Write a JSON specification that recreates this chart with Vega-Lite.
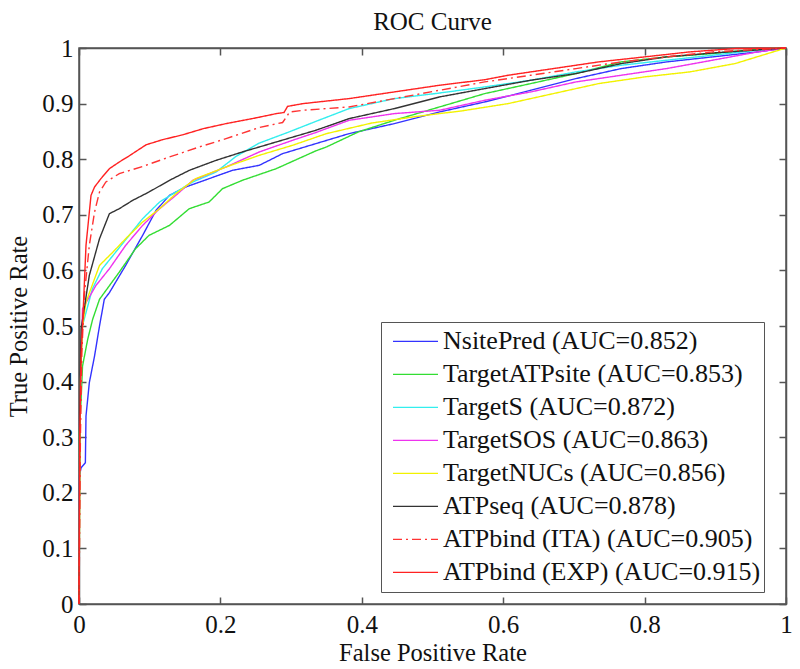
{
  "$schema": "https://vega.github.io/schema/vega-lite/v6.json",
  "width": 707,
  "height": 556,
  "autosize": {"type": "none"},
  "padding": {"left": 79, "top": 48, "right": 14, "bottom": 65},
  "background": "white",
  "title": {"text": "ROC Curve", "font": "Liberation Serif", "fontSize": 25, "fontWeight": "normal", "color": "#111", "offset": 1},
  "config": {
    "view": {"stroke": "#555", "strokeWidth": 1.5},
    "axis": {"labelFont": "Liberation Serif", "titleFont": "Liberation Serif", "labelFontSize": 25, "titleFontSize": 24.5, "titleFontWeight": "normal", "labelColor": "#111", "titleColor": "#111", "domainColor": "#555", "domainWidth": 1.5, "tickColor": "#555", "tickWidth": 1.5, "tickSize": -7, "grid": false}
  },
  "data": {"values": [
    {"s":"NsitePred (AUC=0.852)","fpr":0,"tpr":0},
    {"s":"NsitePred (AUC=0.852)","fpr":0.0005,"tpr":0.23},
    {"s":"NsitePred (AUC=0.852)","fpr":0.003,"tpr":0.245},
    {"s":"NsitePred (AUC=0.852)","fpr":0.009,"tpr":0.254},
    {"s":"NsitePred (AUC=0.852)","fpr":0.0099,"tpr":0.338},
    {"s":"NsitePred (AUC=0.852)","fpr":0.0146,"tpr":0.398},
    {"s":"NsitePred (AUC=0.852)","fpr":0.022,"tpr":0.446},
    {"s":"NsitePred (AUC=0.852)","fpr":0.029,"tpr":0.5},
    {"s":"NsitePred (AUC=0.852)","fpr":0.0358,"tpr":0.548},
    {"s":"NsitePred (AUC=0.852)","fpr":0.043,"tpr":0.56},
    {"s":"NsitePred (AUC=0.852)","fpr":0.066,"tpr":0.609},
    {"s":"NsitePred (AUC=0.852)","fpr":0.09,"tpr":0.663},
    {"s":"NsitePred (AUC=0.852)","fpr":0.109,"tpr":0.708},
    {"s":"NsitePred (AUC=0.852)","fpr":0.128,"tpr":0.735},
    {"s":"NsitePred (AUC=0.852)","fpr":0.151,"tpr":0.75},
    {"s":"NsitePred (AUC=0.852)","fpr":0.184,"tpr":0.765},
    {"s":"NsitePred (AUC=0.852)","fpr":0.217,"tpr":0.78},
    {"s":"NsitePred (AUC=0.852)","fpr":0.255,"tpr":0.789},
    {"s":"NsitePred (AUC=0.852)","fpr":0.288,"tpr":0.81},
    {"s":"NsitePred (AUC=0.852)","fpr":0.335,"tpr":0.828},
    {"s":"NsitePred (AUC=0.852)","fpr":0.382,"tpr":0.846},
    {"s":"NsitePred (AUC=0.852)","fpr":0.446,"tpr":0.864},
    {"s":"NsitePred (AUC=0.852)","fpr":0.51,"tpr":0.885},
    {"s":"NsitePred (AUC=0.852)","fpr":0.574,"tpr":0.903},
    {"s":"NsitePred (AUC=0.852)","fpr":0.639,"tpr":0.924},
    {"s":"NsitePred (AUC=0.852)","fpr":0.703,"tpr":0.945},
    {"s":"NsitePred (AUC=0.852)","fpr":0.767,"tpr":0.963},
    {"s":"NsitePred (AUC=0.852)","fpr":0.831,"tpr":0.975},
    {"s":"NsitePred (AUC=0.852)","fpr":0.896,"tpr":0.984},
    {"s":"NsitePred (AUC=0.852)","fpr":0.96,"tpr":0.993},
    {"s":"NsitePred (AUC=0.852)","fpr":1,"tpr":1},

    {"s":"TargetATPsite (AUC=0.853)","fpr":0,"tpr":0},
    {"s":"TargetATPsite (AUC=0.853)","fpr":0.0005,"tpr":0.308},
    {"s":"TargetATPsite (AUC=0.853)","fpr":0.003,"tpr":0.368},
    {"s":"TargetATPsite (AUC=0.853)","fpr":0.005,"tpr":0.428},
    {"s":"TargetATPsite (AUC=0.853)","fpr":0.0123,"tpr":0.476},
    {"s":"TargetATPsite (AUC=0.853)","fpr":0.0193,"tpr":0.512},
    {"s":"TargetATPsite (AUC=0.853)","fpr":0.029,"tpr":0.548},
    {"s":"TargetATPsite (AUC=0.853)","fpr":0.057,"tpr":0.597},
    {"s":"TargetATPsite (AUC=0.853)","fpr":0.08,"tpr":0.639},
    {"s":"TargetATPsite (AUC=0.853)","fpr":0.099,"tpr":0.663},
    {"s":"TargetATPsite (AUC=0.853)","fpr":0.128,"tpr":0.681},
    {"s":"TargetATPsite (AUC=0.853)","fpr":0.156,"tpr":0.711},
    {"s":"TargetATPsite (AUC=0.853)","fpr":0.184,"tpr":0.723},
    {"s":"TargetATPsite (AUC=0.853)","fpr":0.203,"tpr":0.747},
    {"s":"TargetATPsite (AUC=0.853)","fpr":0.231,"tpr":0.762},
    {"s":"TargetATPsite (AUC=0.853)","fpr":0.279,"tpr":0.783},
    {"s":"TargetATPsite (AUC=0.853)","fpr":0.335,"tpr":0.815},
    {"s":"TargetATPsite (AUC=0.853)","fpr":0.35,"tpr":0.822},
    {"s":"TargetATPsite (AUC=0.853)","fpr":0.395,"tpr":0.849},
    {"s":"TargetATPsite (AUC=0.853)","fpr":0.446,"tpr":0.87},
    {"s":"TargetATPsite (AUC=0.853)","fpr":0.51,"tpr":0.894},
    {"s":"TargetATPsite (AUC=0.853)","fpr":0.574,"tpr":0.918},
    {"s":"TargetATPsite (AUC=0.853)","fpr":0.639,"tpr":0.936},
    {"s":"TargetATPsite (AUC=0.853)","fpr":0.703,"tpr":0.954},
    {"s":"TargetATPsite (AUC=0.853)","fpr":0.767,"tpr":0.975},
    {"s":"TargetATPsite (AUC=0.853)","fpr":0.831,"tpr":0.984},
    {"s":"TargetATPsite (AUC=0.853)","fpr":0.896,"tpr":0.99},
    {"s":"TargetATPsite (AUC=0.853)","fpr":0.96,"tpr":0.998},
    {"s":"TargetATPsite (AUC=0.853)","fpr":1,"tpr":1},

    {"s":"TargetS (AUC=0.872)","fpr":0,"tpr":0},
    {"s":"TargetS (AUC=0.872)","fpr":0.001,"tpr":0.3},
    {"s":"TargetS (AUC=0.872)","fpr":0.003,"tpr":0.45},
    {"s":"TargetS (AUC=0.872)","fpr":0.005,"tpr":0.501},
    {"s":"TargetS (AUC=0.872)","fpr":0.019,"tpr":0.567},
    {"s":"TargetS (AUC=0.872)","fpr":0.033,"tpr":0.603},
    {"s":"TargetS (AUC=0.872)","fpr":0.052,"tpr":0.633},
    {"s":"TargetS (AUC=0.872)","fpr":0.071,"tpr":0.663},
    {"s":"TargetS (AUC=0.872)","fpr":0.09,"tpr":0.693},
    {"s":"TargetS (AUC=0.872)","fpr":0.114,"tpr":0.723},
    {"s":"TargetS (AUC=0.872)","fpr":0.137,"tpr":0.741},
    {"s":"TargetS (AUC=0.872)","fpr":0.161,"tpr":0.759},
    {"s":"TargetS (AUC=0.872)","fpr":0.194,"tpr":0.777},
    {"s":"TargetS (AUC=0.872)","fpr":0.222,"tpr":0.805},
    {"s":"TargetS (AUC=0.872)","fpr":0.255,"tpr":0.829},
    {"s":"TargetS (AUC=0.872)","fpr":0.297,"tpr":0.849},
    {"s":"TargetS (AUC=0.872)","fpr":0.335,"tpr":0.868},
    {"s":"TargetS (AUC=0.872)","fpr":0.382,"tpr":0.891},
    {"s":"TargetS (AUC=0.872)","fpr":0.446,"tpr":0.909},
    {"s":"TargetS (AUC=0.872)","fpr":0.51,"tpr":0.919},
    {"s":"TargetS (AUC=0.872)","fpr":0.574,"tpr":0.93},
    {"s":"TargetS (AUC=0.872)","fpr":0.639,"tpr":0.942},
    {"s":"TargetS (AUC=0.872)","fpr":0.703,"tpr":0.957},
    {"s":"TargetS (AUC=0.872)","fpr":0.767,"tpr":0.969},
    {"s":"TargetS (AUC=0.872)","fpr":0.831,"tpr":0.978},
    {"s":"TargetS (AUC=0.872)","fpr":0.896,"tpr":0.987},
    {"s":"TargetS (AUC=0.872)","fpr":0.96,"tpr":0.996},
    {"s":"TargetS (AUC=0.872)","fpr":1,"tpr":1},

    {"s":"TargetSOS (AUC=0.863)","fpr":0,"tpr":0},
    {"s":"TargetSOS (AUC=0.863)","fpr":0.001,"tpr":0.35},
    {"s":"TargetSOS (AUC=0.863)","fpr":0.005,"tpr":0.531},
    {"s":"TargetSOS (AUC=0.863)","fpr":0.024,"tpr":0.573},
    {"s":"TargetSOS (AUC=0.863)","fpr":0.043,"tpr":0.603},
    {"s":"TargetSOS (AUC=0.863)","fpr":0.066,"tpr":0.645},
    {"s":"TargetSOS (AUC=0.863)","fpr":0.09,"tpr":0.681},
    {"s":"TargetSOS (AUC=0.863)","fpr":0.114,"tpr":0.711},
    {"s":"TargetSOS (AUC=0.863)","fpr":0.137,"tpr":0.735},
    {"s":"TargetSOS (AUC=0.863)","fpr":0.161,"tpr":0.762},
    {"s":"TargetSOS (AUC=0.863)","fpr":0.208,"tpr":0.786},
    {"s":"TargetSOS (AUC=0.863)","fpr":0.255,"tpr":0.813},
    {"s":"TargetSOS (AUC=0.863)","fpr":0.302,"tpr":0.834},
    {"s":"TargetSOS (AUC=0.863)","fpr":0.335,"tpr":0.848},
    {"s":"TargetSOS (AUC=0.863)","fpr":0.382,"tpr":0.87},
    {"s":"TargetSOS (AUC=0.863)","fpr":0.446,"tpr":0.882},
    {"s":"TargetSOS (AUC=0.863)","fpr":0.51,"tpr":0.888},
    {"s":"TargetSOS (AUC=0.863)","fpr":0.574,"tpr":0.906},
    {"s":"TargetSOS (AUC=0.863)","fpr":0.639,"tpr":0.921},
    {"s":"TargetSOS (AUC=0.863)","fpr":0.703,"tpr":0.939},
    {"s":"TargetSOS (AUC=0.863)","fpr":0.767,"tpr":0.951},
    {"s":"TargetSOS (AUC=0.863)","fpr":0.831,"tpr":0.963},
    {"s":"TargetSOS (AUC=0.863)","fpr":0.896,"tpr":0.978},
    {"s":"TargetSOS (AUC=0.863)","fpr":0.96,"tpr":0.993},
    {"s":"TargetSOS (AUC=0.863)","fpr":1,"tpr":1},

    {"s":"TargetNUCs (AUC=0.856)","fpr":0,"tpr":0},
    {"s":"TargetNUCs (AUC=0.856)","fpr":0.002,"tpr":0.4},
    {"s":"TargetNUCs (AUC=0.856)","fpr":0.005,"tpr":0.5},
    {"s":"TargetNUCs (AUC=0.856)","fpr":0.0099,"tpr":0.543},
    {"s":"TargetNUCs (AUC=0.856)","fpr":0.029,"tpr":0.609},
    {"s":"TargetNUCs (AUC=0.856)","fpr":0.048,"tpr":0.633},
    {"s":"TargetNUCs (AUC=0.856)","fpr":0.066,"tpr":0.657},
    {"s":"TargetNUCs (AUC=0.856)","fpr":0.09,"tpr":0.687},
    {"s":"TargetNUCs (AUC=0.856)","fpr":0.114,"tpr":0.711},
    {"s":"TargetNUCs (AUC=0.856)","fpr":0.137,"tpr":0.738},
    {"s":"TargetNUCs (AUC=0.856)","fpr":0.165,"tpr":0.765},
    {"s":"TargetNUCs (AUC=0.856)","fpr":0.208,"tpr":0.786},
    {"s":"TargetNUCs (AUC=0.856)","fpr":0.255,"tpr":0.807},
    {"s":"TargetNUCs (AUC=0.856)","fpr":0.302,"tpr":0.825},
    {"s":"TargetNUCs (AUC=0.856)","fpr":0.35,"tpr":0.846},
    {"s":"TargetNUCs (AUC=0.856)","fpr":0.414,"tpr":0.865},
    {"s":"TargetNUCs (AUC=0.856)","fpr":0.478,"tpr":0.877},
    {"s":"TargetNUCs (AUC=0.856)","fpr":0.542,"tpr":0.887},
    {"s":"TargetNUCs (AUC=0.856)","fpr":0.607,"tpr":0.9},
    {"s":"TargetNUCs (AUC=0.856)","fpr":0.671,"tpr":0.918},
    {"s":"TargetNUCs (AUC=0.856)","fpr":0.735,"tpr":0.936},
    {"s":"TargetNUCs (AUC=0.856)","fpr":0.8,"tpr":0.948},
    {"s":"TargetNUCs (AUC=0.856)","fpr":0.864,"tpr":0.957},
    {"s":"TargetNUCs (AUC=0.856)","fpr":0.928,"tpr":0.972},
    {"s":"TargetNUCs (AUC=0.856)","fpr":1,"tpr":1},

    {"s":"ATPseq (AUC=0.878)","fpr":0,"tpr":0},
    {"s":"ATPseq (AUC=0.878)","fpr":0.001,"tpr":0.35},
    {"s":"ATPseq (AUC=0.878)","fpr":0.003,"tpr":0.495},
    {"s":"ATPseq (AUC=0.878)","fpr":0.0146,"tpr":0.591},
    {"s":"ATPseq (AUC=0.878)","fpr":0.029,"tpr":0.657},
    {"s":"ATPseq (AUC=0.878)","fpr":0.043,"tpr":0.702},
    {"s":"ATPseq (AUC=0.878)","fpr":0.057,"tpr":0.711},
    {"s":"ATPseq (AUC=0.878)","fpr":0.076,"tpr":0.726},
    {"s":"ATPseq (AUC=0.878)","fpr":0.099,"tpr":0.741},
    {"s":"ATPseq (AUC=0.878)","fpr":0.128,"tpr":0.762},
    {"s":"ATPseq (AUC=0.878)","fpr":0.156,"tpr":0.78},
    {"s":"ATPseq (AUC=0.878)","fpr":0.194,"tpr":0.798},
    {"s":"ATPseq (AUC=0.878)","fpr":0.231,"tpr":0.813},
    {"s":"ATPseq (AUC=0.878)","fpr":0.279,"tpr":0.831},
    {"s":"ATPseq (AUC=0.878)","fpr":0.335,"tpr":0.852},
    {"s":"ATPseq (AUC=0.878)","fpr":0.382,"tpr":0.873},
    {"s":"ATPseq (AUC=0.878)","fpr":0.446,"tpr":0.891},
    {"s":"ATPseq (AUC=0.878)","fpr":0.51,"tpr":0.912},
    {"s":"ATPseq (AUC=0.878)","fpr":0.574,"tpr":0.927},
    {"s":"ATPseq (AUC=0.878)","fpr":0.639,"tpr":0.942},
    {"s":"ATPseq (AUC=0.878)","fpr":0.703,"tpr":0.954},
    {"s":"ATPseq (AUC=0.878)","fpr":0.767,"tpr":0.972},
    {"s":"ATPseq (AUC=0.878)","fpr":0.831,"tpr":0.984},
    {"s":"ATPseq (AUC=0.878)","fpr":0.896,"tpr":0.991},
    {"s":"ATPseq (AUC=0.878)","fpr":1,"tpr":1},

    {"s":"ATPbind (ITA) (AUC=0.905)","fpr":0,"tpr":0},
    {"s":"ATPbind (ITA) (AUC=0.905)","fpr":0.002,"tpr":0.3},
    {"s":"ATPbind (ITA) (AUC=0.905)","fpr":0.004,"tpr":0.45},
    {"s":"ATPbind (ITA) (AUC=0.905)","fpr":0.0075,"tpr":0.555},
    {"s":"ATPbind (ITA) (AUC=0.905)","fpr":0.0146,"tpr":0.645},
    {"s":"ATPbind (ITA) (AUC=0.905)","fpr":0.022,"tpr":0.705},
    {"s":"ATPbind (ITA) (AUC=0.905)","fpr":0.029,"tpr":0.741},
    {"s":"ATPbind (ITA) (AUC=0.905)","fpr":0.038,"tpr":0.759},
    {"s":"ATPbind (ITA) (AUC=0.905)","fpr":0.057,"tpr":0.774},
    {"s":"ATPbind (ITA) (AUC=0.905)","fpr":0.09,"tpr":0.787},
    {"s":"ATPbind (ITA) (AUC=0.905)","fpr":0.128,"tpr":0.804},
    {"s":"ATPbind (ITA) (AUC=0.905)","fpr":0.17,"tpr":0.822},
    {"s":"ATPbind (ITA) (AUC=0.905)","fpr":0.208,"tpr":0.837},
    {"s":"ATPbind (ITA) (AUC=0.905)","fpr":0.255,"tpr":0.857},
    {"s":"ATPbind (ITA) (AUC=0.905)","fpr":0.288,"tpr":0.866},
    {"s":"ATPbind (ITA) (AUC=0.905)","fpr":0.298,"tpr":0.885},
    {"s":"ATPbind (ITA) (AUC=0.905)","fpr":0.317,"tpr":0.888},
    {"s":"ATPbind (ITA) (AUC=0.905)","fpr":0.382,"tpr":0.894},
    {"s":"ATPbind (ITA) (AUC=0.905)","fpr":0.446,"tpr":0.909},
    {"s":"ATPbind (ITA) (AUC=0.905)","fpr":0.51,"tpr":0.924},
    {"s":"ATPbind (ITA) (AUC=0.905)","fpr":0.574,"tpr":0.939},
    {"s":"ATPbind (ITA) (AUC=0.905)","fpr":0.639,"tpr":0.951},
    {"s":"ATPbind (ITA) (AUC=0.905)","fpr":0.703,"tpr":0.963},
    {"s":"ATPbind (ITA) (AUC=0.905)","fpr":0.767,"tpr":0.975},
    {"s":"ATPbind (ITA) (AUC=0.905)","fpr":0.831,"tpr":0.984},
    {"s":"ATPbind (ITA) (AUC=0.905)","fpr":0.896,"tpr":0.993},
    {"s":"ATPbind (ITA) (AUC=0.905)","fpr":1,"tpr":1},

    {"s":"ATPbind (EXP) (AUC=0.915)","fpr":0,"tpr":0},
    {"s":"ATPbind (EXP) (AUC=0.915)","fpr":0.001,"tpr":0.3},
    {"s":"ATPbind (EXP) (AUC=0.915)","fpr":0.003,"tpr":0.45},
    {"s":"ATPbind (EXP) (AUC=0.915)","fpr":0.005,"tpr":0.5},
    {"s":"ATPbind (EXP) (AUC=0.915)","fpr":0.0099,"tpr":0.645},
    {"s":"ATPbind (EXP) (AUC=0.915)","fpr":0.017,"tpr":0.735},
    {"s":"ATPbind (EXP) (AUC=0.915)","fpr":0.022,"tpr":0.75},
    {"s":"ATPbind (EXP) (AUC=0.915)","fpr":0.031,"tpr":0.765},
    {"s":"ATPbind (EXP) (AUC=0.915)","fpr":0.043,"tpr":0.783},
    {"s":"ATPbind (EXP) (AUC=0.915)","fpr":0.057,"tpr":0.795},
    {"s":"ATPbind (EXP) (AUC=0.915)","fpr":0.071,"tpr":0.806},
    {"s":"ATPbind (EXP) (AUC=0.915)","fpr":0.095,"tpr":0.826},
    {"s":"ATPbind (EXP) (AUC=0.915)","fpr":0.118,"tpr":0.835},
    {"s":"ATPbind (EXP) (AUC=0.915)","fpr":0.147,"tpr":0.844},
    {"s":"ATPbind (EXP) (AUC=0.915)","fpr":0.176,"tpr":0.855},
    {"s":"ATPbind (EXP) (AUC=0.915)","fpr":0.208,"tpr":0.864},
    {"s":"ATPbind (EXP) (AUC=0.915)","fpr":0.253,"tpr":0.875},
    {"s":"ATPbind (EXP) (AUC=0.915)","fpr":0.279,"tpr":0.882},
    {"s":"ATPbind (EXP) (AUC=0.915)","fpr":0.29,"tpr":0.884},
    {"s":"ATPbind (EXP) (AUC=0.915)","fpr":0.295,"tpr":0.895},
    {"s":"ATPbind (EXP) (AUC=0.915)","fpr":0.317,"tpr":0.9},
    {"s":"ATPbind (EXP) (AUC=0.915)","fpr":0.382,"tpr":0.909},
    {"s":"ATPbind (EXP) (AUC=0.915)","fpr":0.446,"tpr":0.921},
    {"s":"ATPbind (EXP) (AUC=0.915)","fpr":0.51,"tpr":0.933},
    {"s":"ATPbind (EXP) (AUC=0.915)","fpr":0.574,"tpr":0.943},
    {"s":"ATPbind (EXP) (AUC=0.915)","fpr":0.607,"tpr":0.951},
    {"s":"ATPbind (EXP) (AUC=0.915)","fpr":0.671,"tpr":0.963},
    {"s":"ATPbind (EXP) (AUC=0.915)","fpr":0.735,"tpr":0.975},
    {"s":"ATPbind (EXP) (AUC=0.915)","fpr":0.8,"tpr":0.984},
    {"s":"ATPbind (EXP) (AUC=0.915)","fpr":0.864,"tpr":0.993},
    {"s":"ATPbind (EXP) (AUC=0.915)","fpr":0.928,"tpr":0.999},
    {"s":"ATPbind (EXP) (AUC=0.915)","fpr":1,"tpr":1}
  ]},
  "layer": [
    {
      "transform": [{"filter": "datum.s != 'ATPbind (EXP) (AUC=0.915)'"}],
      "mark": {"type": "line", "strokeWidth": 1.4, "interpolate": "linear"},
      "encoding": {
        "x": {"field": "fpr", "type": "quantitative", "scale": {"domain": [0, 1], "nice": false, "zero": false},
              "axis": {"orient": "bottom", "values": [0, 0.2, 0.4, 0.6, 0.8, 1], "format": "~g", "title": "False Positive Rate", "labelPadding": 15, "titlePadding": 4, "labelFlush": false}},
        "y": {"field": "tpr", "type": "quantitative", "scale": {"domain": [0, 1], "nice": false, "zero": false},
              "axis": {"orient": "left", "values": [0, 0.1, 0.2, 0.3, 0.4, 0.5, 0.6, 0.7, 0.8, 0.9, 1], "format": "~g", "title": "True Positive Rate", "labelPadding": 13, "titlePadding": 10, "labelFlush": false}},
        "color": {"field": "s", "type": "nominal",
                  "scale": {"domain": ["NsitePred (AUC=0.852)", "TargetATPsite (AUC=0.853)", "TargetS (AUC=0.872)", "TargetSOS (AUC=0.863)", "TargetNUCs (AUC=0.856)", "ATPseq (AUC=0.878)", "ATPbind (ITA) (AUC=0.905)", "ATPbind (EXP) (AUC=0.915)"],
                            "range": ["#3333ff", "#33dd33", "#33eeee", "#ee33ee", "#f2f200", "#333333", "#ff3333", "#ff2222"]},
                  "legend": {"orient": "none", "legendX": 302, "legendY": 274, "title": null, "symbolType": "stroke", "symbolSize": 2025, "symbolStrokeWidth": 1.3, "symbolOffset": 8, "clipHeight": 32.7, "labelFont": "Liberation Serif", "labelFontSize": 26, "labelColor": "#111", "labelOffset": 4, "labelLimit": 500, "padding": 3, "rowPadding": 0, "strokeColor": "#555", "fillColor": "white"}},
        "strokeDash": {"field": "s", "type": "nominal",
                  "scale": {"domain": ["NsitePred (AUC=0.852)", "TargetATPsite (AUC=0.853)", "TargetS (AUC=0.872)", "TargetSOS (AUC=0.863)", "TargetNUCs (AUC=0.856)", "ATPseq (AUC=0.878)", "ATPbind (ITA) (AUC=0.905)", "ATPbind (EXP) (AUC=0.915)"],
                            "range": [[1, 0], [1, 0], [1, 0], [1, 0], [1, 0], [1, 0], [9, 4, 2, 4], [1, 0]]},
                  "legend": {"orient": "none", "legendX": 302, "legendY": 274, "title": null, "symbolType": "stroke", "symbolSize": 2025, "symbolStrokeWidth": 1.3, "symbolOffset": 8, "clipHeight": 32.7, "labelFont": "Liberation Serif", "labelFontSize": 26, "labelColor": "#111", "labelOffset": 4, "labelLimit": 500, "padding": 3, "rowPadding": 0, "strokeColor": "#555", "fillColor": "white"}}
      }
    },
    {
      "transform": [{"filter": "datum.s == 'ATPbind (EXP) (AUC=0.915)'"}],
      "mark": {"type": "line", "strokeWidth": 1.4, "interpolate": "linear"},
      "encoding": {
        "x": {"field": "fpr", "type": "quantitative", "axis": {"orient": "top", "values": [0, 0.2, 0.4, 0.6, 0.8, 1], "labels": false, "title": null}},
        "y": {"field": "tpr", "type": "quantitative", "axis": {"orient": "right", "values": [0, 0.1, 0.2, 0.3, 0.4, 0.5, 0.6, 0.7, 0.8, 0.9, 1], "labels": false, "title": null}},
        "color": {"field": "s", "type": "nominal"},
        "strokeDash": {"field": "s", "type": "nominal"}
      }
    }
  ]
}
